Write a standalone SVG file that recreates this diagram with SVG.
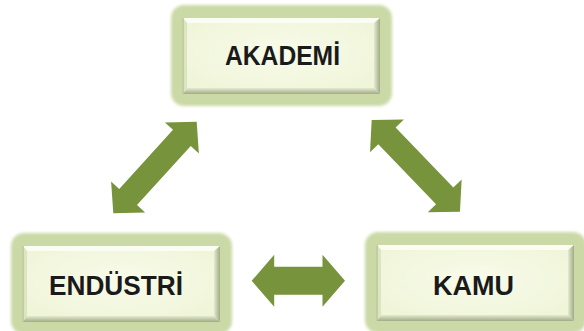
<svg xmlns="http://www.w3.org/2000/svg" width="584" height="331" viewBox="0 0 584 331">
  <style>
    .frame { fill: #CBD9A7; filter: url(#soft); }
    .hl { fill: #FBFDF2; }
    .lft { fill: #DCE5C2; }
    .label { font-family: "Liberation Sans", Arial, sans-serif; font-weight: bold; font-size: 27.5px; fill: #1A1A1A; }
    .arrow { fill: #77933C; }
  </style>
  <defs>
    <filter id="soft" x="-10%" y="-10%" width="120%" height="120%">
      <feGaussianBlur stdDeviation="1.8"/>
    </filter>
    <linearGradient id="gR" x1="0" y1="0" x2="1" y2="0">
      <stop offset="0" stop-color="#E4EACF"/>
      <stop offset="1" stop-color="#A2AA86"/>
    </linearGradient>
    <linearGradient id="gB" x1="0" y1="0" x2="0" y2="1">
      <stop offset="0" stop-color="#E4EACF"/>
      <stop offset="1" stop-color="#A2AA86"/>
    </linearGradient>
    <radialGradient id="gP" cx="0.5" cy="0.45" r="0.7">
      <stop offset="0" stop-color="#F8FBEA"/>
      <stop offset="1" stop-color="#EEF4D6"/>
    </radialGradient>
    <g id="box">
      <rect class="frame" x="-12" y="-13" width="221" height="101" rx="13"/>
      <rect x="0" y="0" width="197" height="76" fill="url(#gP)"/>
      <polygon class="hl" points="0,0 197,0 191,5 4,5"/>
      <polygon class="lft" points="0,0 4,5 4,70 0,76"/>
      <rect x="-0.5" y="0" width="1.2" height="76" fill="#B8C397"/>
      <polygon fill="url(#gR)" points="197,0 197,76 191,70 191,5"/>
      <polygon fill="url(#gB)" points="0,76 4,70 191,70 197,76"/>
    </g>
  </defs>

  <g id="connectors">
    <polygon class="arrow" transform="translate(113.3 213.3) rotate(-47.7)" points="0,0 22,-23 22,-12 101.9,-12 101.9,-23 123.9,0 101.9,23 101.9,12 22,12 22,23"/>
    <polygon class="arrow" transform="translate(371.7 120) rotate(46.1)" points="0,0 22,-23.5 22,-12 105.3,-12 105.3,-23.5 127.3,0 105.3,23.5 105.3,12 22,12 22,23.5"/>
    <polygon class="arrow" transform="translate(251.7 280.8)" points="0,0 22.5,-26 22.5,-14 70.8,-14 70.8,-26 93.3,0 70.8,26 70.8,14 22.5,14 22.5,26"/>
  </g>

  <g id="akademi">
    <use href="#box" x="183" y="18"/>
    <text class="label" x="225" y="65" textLength="115" lengthAdjust="spacingAndGlyphs">AKADEMİ</text>
  </g>
  <g id="endustri">
    <use href="#box" x="23" y="246"/>
    <text class="label" x="49" y="295" textLength="134" lengthAdjust="spacingAndGlyphs">ENDÜSTRİ</text>
  </g>
  <g id="kamu">
    <use href="#box" x="377" y="245"/>
    <text class="label" x="433" y="295" textLength="81" lengthAdjust="spacingAndGlyphs">KAMU</text>
  </g>
</svg>
